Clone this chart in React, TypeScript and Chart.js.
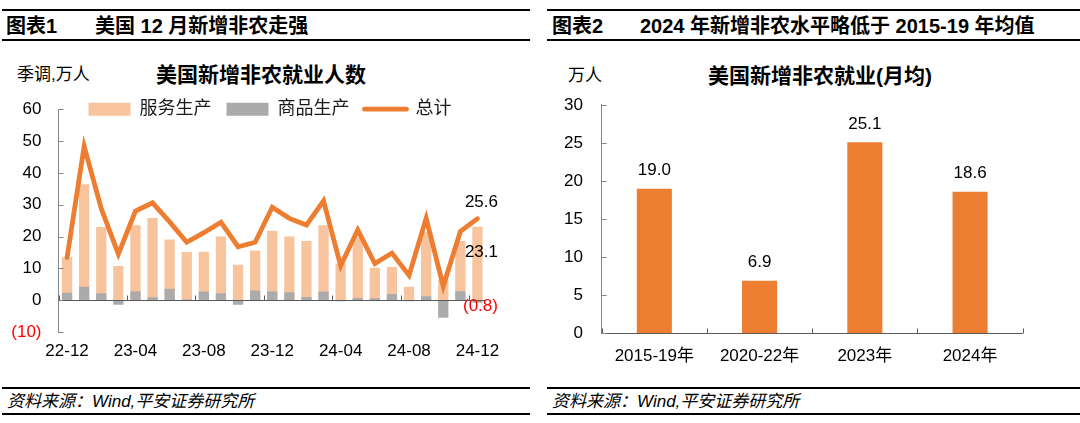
import React, { useEffect, useRef } from 'react';
import { Chart, registerables } from 'chart.js';

Chart.register(...registerables);

const FONT = '"Liberation Sans", "Noto Sans CJK SC", Arial, sans-serif';

// ---- Left chart data (万人, seasonally adjusted) ----
const months = [
  '22-12', '23-01', '23-02', '23-03', '23-04', '23-05', '23-06', '23-07', '23-08', '23-09', '23-10', '23-11', '23-12',
  '24-01', '24-02', '24-03', '24-04', '24-05', '24-06', '24-07', '24-08', '24-09', '24-10', '24-11', '24-12',
];
const servicesJobs = [
  13.5, 36.4, 23.0, 10.7, 23.5, 25.8, 19.1, 15.1, 15.2, 20.0, 11.1, 15.6, 21.8,
  20.0, 18.6, 23.5, 11.5, 19.8, 10.2, 10.4, 4.2, 21.5, 6.5, 18.6, 23.1,
];
const goodsJobs = [
  2.3, 4.2, 2.2, -1.4, 2.8, 0.9, 3.6, 0.2, 2.7, 2.2, -1.4, 3.0, 2.7,
  2.5, 1.0, 2.7, -0.3, 0.7, 0.6, 1.9, -0.3, 1.2, -5.5, 2.8, -0.8,
];
const totalJobs = [
  13.4, 48.3, 28.8, 14.5, 28.0, 30.6, 24.6, 18.2, 21.2, 24.5, 16.8, 18.2, 29.2,
  25.7, 23.6, 31.2, 10.8, 22.1, 11.5, 14.8, 7.8, 25.7, 4.4, 21.6, 25.6,
];
const leftSeriesNames = ['服务生产', '商品生产', '总计'];

// ---- Right chart data (万人, monthly average) ----
const periods = ['2015-19年', '2020-22年', '2023年', '2024年'];
const monthlyAvg = [19.0, 6.9, 25.1, 18.6];

const ORANGE = '#ED7D31';
const PEACH = '#F8C49D';
const GREY = '#ABABAB';
const AXIS_GREY = '#868686';
const ZERO_LINE = '#595959';

function LeftChart() {
  const ref = useRef<HTMLCanvasElement>(null);
  useEffect(() => {
    if (!ref.current) return;
    const n = months.length;
    const marks = {
      id: 'leftMarks',
      afterInit(chart: any) {
        const lg = chart.legend;
        if (!lg) return;
        const origFit = lg.fit.bind(lg);
        lg.fit = function () {
          origFit();
          this.height = 24;
        };
        lg.draw = function () {
          if (this.options.display) this._draw();
        };
      },
      afterDatasetDraw(chart: any, args: any) {
        if (args.index !== 1) return;
        const { ctx, chartArea, scales } = chart;
        const xs = scales.x;
        const ys = scales.y;
        const y0 = Math.round(ys.getPixelForValue(0)) + 0.5;
        ctx.save();
        ctx.strokeStyle = ZERO_LINE;
        ctx.lineWidth = 1;
        ctx.beginPath();
        ctx.moveTo(chartArea.left, y0);
        ctx.lineTo(chartArea.right, y0);
        for (let i = 0; i < n; i += 4) {
          const px = Math.round(xs.getPixelForValue(i - 0.5)) + 0.5;
          ctx.moveTo(px, y0);
          ctx.lineTo(px, y0 - 5);
        }
        ctx.stroke();
        ctx.restore();
      },
      afterDatasetsDraw(chart: any) {
        const { ctx, chartArea, scales } = chart;
        const ys = scales.y;
        ctx.save();
        ctx.strokeStyle = AXIS_GREY;
        ctx.lineWidth = 1;
        ctx.beginPath();
        ys.ticks.forEach((t: any) => {
          const py = Math.round(ys.getPixelForValue(t.value)) + 0.5;
          ctx.moveTo(chartArea.left, py);
          ctx.lineTo(chartArea.left + 5, py);
        });
        ctx.stroke();
        // end-of-series labels
        const last = n - 1;
        const lineEl = chart.getDatasetMeta(2).data[last];
        const svcEl = chart.getDatasetMeta(0).data[last];
        const gdsEl = chart.getDatasetMeta(1).data[last];
        ctx.font = `17px ${FONT}`;
        ctx.textAlign = 'center';
        ctx.textBaseline = 'middle';
        ctx.fillStyle = '#000';
        ctx.fillText(totalJobs[last].toFixed(1), lineEl.x + 4, lineEl.y - 16);
        ctx.fillText(servicesJobs[last].toFixed(1), svcEl.x + 4, svcEl.y + 26);
        ctx.fillStyle = '#FF0000';
        const g = goodsJobs[last];
        ctx.fillText(g < 0 ? `(${Math.abs(g).toFixed(1)})` : g.toFixed(1), gdsEl.x + 3, gdsEl.y + 4);
        ctx.restore();
      },
    };

    const chart = new Chart(ref.current, {
      type: 'bar',
      data: {
        labels: months,
        datasets: [
          {
            type: 'bar',
            label: leftSeriesNames[0],
            data: servicesJobs,
            backgroundColor: PEACH,
            borderWidth: 0,
            barPercentage: 0.6,
            categoryPercentage: 1,
            grouped: false,
            order: 3,
          } as any,
          {
            type: 'bar',
            label: leftSeriesNames[1],
            data: goodsJobs,
            backgroundColor: GREY,
            borderWidth: 0,
            barPercentage: 0.6,
            categoryPercentage: 1,
            grouped: false,
            order: 2,
          } as any,
          {
            type: 'line',
            label: leftSeriesNames[2],
            data: totalJobs,
            borderColor: ORANGE,
            backgroundColor: ORANGE,
            borderWidth: 4.8,
            pointRadius: 0,
            tension: 0,
            borderCapStyle: 'round',
            order: 1,
          } as any,
        ],
      },
      options: {
        animation: false,
        responsive: false,
        maintainAspectRatio: false,
        layout: { padding: { top: 0, bottom: 18, left: 0, right: 0 } },
        plugins: {
          tooltip: { enabled: false },
          title: { display: false },
          legend: {
            display: true,
            position: 'top',
            labels: {
              usePointStyle: true,
              pointStyleWidth: 42,
              boxWidth: 42,
              boxHeight: 13,
              padding: 15,
              color: '#1a1a1a',
              font: { family: FONT, size: 18 },
              generateLabels(chart: any) {
                const items = (Chart as any).defaults.plugins.legend.labels.generateLabels(chart);
                return items
                  .sort((a: any, b: any) => a.datasetIndex - b.datasetIndex)
                  .map((it: any) => {
                    const isLine = it.datasetIndex === 2;
                    return {
                      ...it,
                      pointStyle: isLine ? 'line' : 'rect',
                      lineWidth: isLine ? 4.8 : 0,
                      lineCap: 'round',
                      strokeStyle: isLine ? ORANGE : 'rgba(0,0,0,0)',
                    };
                  });
              },
            },
          },
        },
        scales: {
          x: {
            type: 'category',
            grid: { display: false, drawTicks: false },
            border: { display: false },
            ticks: {
              autoSkip: false,
              maxRotation: 0,
              padding: 9,
              color: '#000',
              font: { family: FONT, size: 17 },
              callback: function (this: any, val: any, idx: number) {
                return idx % 4 === 0 ? this.getLabelForValue(val) : '';
              },
            },
            afterFit(s: any) {
              s.height = 30;
            },
          },
          y: {
            min: -10,
            max: 60,
            grid: { display: false, drawTicks: false },
            border: { display: true, color: AXIS_GREY, width: 1 },
            ticks: {
              stepSize: 10,
              padding: 17,
              font: { family: FONT, size: 17 },
              color: (c: any) => (c.tick && c.tick.value < 0 ? '#FF0000' : '#000'),
              callback: (v: any) => (v < 0 ? `(${Math.abs(v)})` : `${v}`),
            },
            afterFit(s: any) {
              s.width = 58.5;
            },
          },
          yR: {
            position: 'right',
            display: true,
            grid: { display: false, drawTicks: false },
            border: { display: false },
            ticks: { display: false },
            afterFit(s: any) {
              s.width = 54;
            },
          },
        },
      } as any,
      plugins: [marks as any],
    });
    return () => chart.destroy();
  }, []);
  return (
    <canvas
      ref={ref}
      width={540}
      height={298}
      style={{ position: 'absolute', left: 0, top: 82, width: 540, height: 298 }}
    />
  );
}

function RightChart() {
  const ref = useRef<HTMLCanvasElement>(null);
  useEffect(() => {
    if (!ref.current) return;
    const marks = {
      id: 'rightMarks',
      afterDatasetsDraw(chart: any) {
        const { ctx, chartArea, scales } = chart;
        const xs = scales.x;
        const ys = scales.y;
        const y0 = Math.round(ys.getPixelForValue(0)) + 0.5;
        ctx.save();
        ctx.lineWidth = 1;
        ctx.strokeStyle = ZERO_LINE;
        ctx.beginPath();
        ctx.moveTo(chartArea.left, y0);
        ctx.lineTo(chartArea.right, y0);
        for (let i = 0; i <= periods.length; i++) {
          const px = Math.round(xs.getPixelForValue(i - 0.5)) + 0.5;
          ctx.moveTo(px, y0);
          ctx.lineTo(px, y0 - 5);
        }
        ctx.stroke();
        ctx.strokeStyle = AXIS_GREY;
        ctx.beginPath();
        ys.ticks.forEach((t: any) => {
          const py = Math.round(ys.getPixelForValue(t.value)) + 0.5;
          ctx.moveTo(chartArea.left, py);
          ctx.lineTo(chartArea.left + 5, py);
        });
        ctx.stroke();
        const meta = chart.getDatasetMeta(0);
        ctx.font = `17px ${FONT}`;
        ctx.textAlign = 'center';
        ctx.textBaseline = 'middle';
        ctx.fillStyle = '#000';
        meta.data.forEach((bar: any, i: number) => {
          ctx.fillText(monthlyAvg[i].toFixed(1), bar.x, bar.y - 18);
        });
        ctx.restore();
      },
    };
    const chart = new Chart(ref.current, {
      type: 'bar',
      data: {
        labels: periods,
        datasets: [
          {
            label: '美国新增非农就业(月均)',
            data: monthlyAvg,
            backgroundColor: ORANGE,
            borderWidth: 0,
            barPercentage: 0.333,
            categoryPercentage: 1,
          },
        ],
      },
      options: {
        animation: false,
        responsive: false,
        maintainAspectRatio: false,
        layout: { padding: { top: 0, bottom: 16.7, left: 0, right: 57.3 } },
        plugins: {
          legend: { display: false },
          tooltip: { enabled: false },
          title: { display: false },
        },
        scales: {
          x: {
            grid: { display: false, drawTicks: false },
            border: { display: false },
            ticks: {
              padding: 13,
              maxRotation: 0,
              color: '#000',
              font: { family: FONT, size: 17 },
            },
            afterFit(s: any) {
              s.height = 30;
            },
          },
          y: {
            min: 0,
            max: 30,
            grid: { display: false, drawTicks: false },
            border: { display: true, color: AXIS_GREY, width: 1 },
            ticks: {
              stepSize: 5,
              padding: 18.7,
              color: '#000',
              font: { family: FONT, size: 17 },
            },
            afterFit(s: any) {
              s.width = 61.7;
            },
          },
        },
      } as any,
      plugins: [marks as any],
    });
    return () => chart.destroy();
  }, []);
  return (
    <canvas
      ref={ref}
      width={540}
      height={304}
      style={{ position: 'absolute', left: 540, top: 76, width: 540, height: 304 }}
    />
  );
}

const abs = (o: React.CSSProperties): React.CSSProperties => ({ position: 'absolute', whiteSpace: 'nowrap', ...o });

export default function App() {
  useEffect(() => {
    document.body.style.margin = '0';
  }, []);
  return (
    <div
      style={{
        position: 'fixed',
        left: 0,
        top: 0,
        width: 1080,
        height: 423,
        background: '#fff',
        fontFamily: FONT,
        color: '#000',
        overflow: 'hidden',
      }}
    >
      {/* Left panel header */}
      <div style={abs({ left: 2, top: 9, width: 528, height: 28, borderTop: '2px solid #000', borderBottom: '2px solid #000' })} />
      <div style={abs({ left: 6, top: 14, fontSize: 20, fontWeight: 700, lineHeight: '24px' })}>图表1</div>
      <div style={abs({ left: 95, top: 14, fontSize: 20, fontWeight: 700, lineHeight: '24px' })}>美国 12 月新增非农走强</div>

      {/* Right panel header */}
      <div style={abs({ left: 547, top: 9, width: 533, height: 28, borderTop: '2px solid #000', borderBottom: '2px solid #000' })} />
      <div style={abs({ left: 552, top: 14, fontSize: 20, fontWeight: 700, lineHeight: '24px' })}>图表2</div>
      <div style={abs({ left: 640, top: 14, fontSize: 20, fontWeight: 700, lineHeight: '24px' })}>
        2024 年新增非农水平略低于 2015-19 年均值
      </div>

      {/* Left chart titles */}
      <div style={abs({ left: 17, top: 64, fontSize: 17, lineHeight: '22px' })}>季调,万人</div>
      <div style={abs({ left: 261, top: 75, transform: 'translate(-50%, -50%)', fontSize: 21, fontWeight: 700, lineHeight: '24px' })}>
        美国新增非农就业人数
      </div>
      <LeftChart />

      {/* Right chart titles */}
      <div style={abs({ left: 568, top: 65, fontSize: 17, lineHeight: '22px' })}>万人</div>
      <div style={abs({ left: 820, top: 76, transform: 'translate(-50%, -50%)', fontSize: 21, fontWeight: 700, lineHeight: '24px' })}>
        美国新增非农就业(月均)
      </div>
      <RightChart />

      {/* Footers */}
      <div style={abs({ left: 2, top: 387, width: 528, height: 24, borderTop: '2px solid #000', borderBottom: '2px solid #000' })} />
      <div style={abs({ left: 7, top: 390, fontSize: 17, fontStyle: 'italic', lineHeight: '23px' })}>资料来源：Wind,平安证券研究所</div>
      <div style={abs({ left: 547, top: 387, width: 533, height: 24, borderTop: '2px solid #000', borderBottom: '2px solid #000' })} />
      <div style={abs({ left: 552, top: 390, fontSize: 17, fontStyle: 'italic', lineHeight: '23px' })}>资料来源：Wind,平安证券研究所</div>
    </div>
  );
}
